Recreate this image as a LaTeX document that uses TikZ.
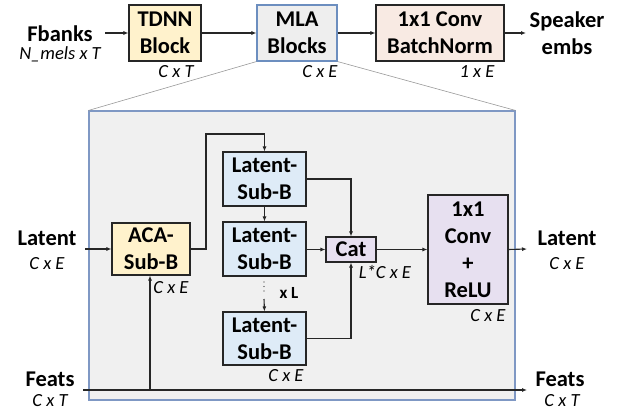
\documentclass[tikz,border=0pt]{standalone}
\usepackage{fontspec}
\setmainfont{Carlito}
\usetikzlibrary{arrows.meta}
\definecolor{yel}{HTML}{FFF2CC}
\definecolor{mlafill}{HTML}{EEEEEE}
\definecolor{mlaline}{HTML}{6C8EBF}
\definecolor{peach}{HTML}{F8EAE3}
\definecolor{lblue}{HTML}{DEEBF7}
\definecolor{lav}{HTML}{E7E0F0}
\definecolor{bigfill}{HTML}{F0F0F0}
\definecolor{bigline}{HTML}{7F98C4}
\definecolor{edge}{HTML}{262626}
\tikzset{
  blk/.style={draw=edge, line width=1.1pt, inner sep=0pt, align=center,
    font=\fontsize{22.5}{27}\selectfont\bfseries},
  lbl/.style={inner sep=0pt, align=center, font=\fontsize{22.5}{27}\selectfont\bfseries},
  dim/.style={inner sep=0pt, font=\fontsize{18.5}{22}\selectfont\itshape},
  conn/.style={draw=edge, line width=1.1pt, -{Latex[length=5pt,width=4pt]}},
  zoomline/.style={draw=gray!80, line width=0.6pt}
}
\begin{document}
\begin{tikzpicture}[x=1pt,y=-1pt]
\useasboundingbox (0,0) rectangle (624,412);
% big detail box
\node[draw=bigline, fill=bigfill, line width=1.1pt, minimum width=426pt, minimum height=289pt, inner sep=0pt] (big) at (302,255.5) {};
% top row
\node[lbl] (fb) at (60,34) {Fbanks};
\node[dim] (fbd) at (60,54) {N\_mels x T};
\node[blk, fill=yel, minimum width=72pt, minimum height=56pt] (tdnn) at (165,33) {TDNN\\Block};
\node[dim] (tdnnd) at (176,72) {C x T};
\node[blk, fill=mlafill, draw=mlaline, minimum width=80pt, minimum height=56pt] (mla) at (297,33) {MLA\\Blocks};
\node[dim] (mlad) at (320,72) {C x E};
\node[blk, fill=peach, minimum width=128pt, minimum height=56pt] (cbn) at (440,33) {1x1 Conv\\BatchNorm};
\node[dim] (cbnd) at (477,72) {1 x E};
\node[lbl] (spk) at (567,33) {Speaker\\embs};
\coordinate (fbr) at (105,33);
\coordinate (spl) at (526,33);
\draw[conn] (fbr) -- (tdnn.west);
\draw[conn] (tdnn.east) -- (mla.west);
\draw[conn] (cbn.west -| mla.east) -- (cbn.west);
\draw[conn] (cbn.east) -- (spl);
% zoom lines
\draw[zoomline] (mla.south west) -- (big.north west);
\draw[zoomline] (mla.south east) -- (big.north east);
% inner blocks
\node[blk, fill=yel, minimum width=78pt, minimum height=52pt] (aca) at (151,249) {ACA-\\Sub-B};
\node[dim] (acad) at (171,288) {C x E};
\node[blk, fill=lblue, minimum width=83pt, minimum height=54pt] (l1) at (264.5,179) {Latent-\\Sub-B};
\node[blk, fill=lblue, minimum width=83pt, minimum height=54pt] (l2) at (264.5,249) {Latent-\\Sub-B};
\node[blk, fill=lblue, minimum width=83pt, minimum height=53pt] (l3) at (264.5,338.5) {Latent-\\Sub-B};
\node[dim] (l3d) at (286,376) {C x E};
\node[blk, fill=lav, minimum width=50pt, minimum height=25pt] (cat) at (351,249.5) {Cat};
\node[dim] (catd) at (385,272) {L*C x E};
\node[blk, fill=lav, minimum width=80pt, minimum height=109pt] (cr) at (468,249.5) {1x1\\Conv\\+\\ReLU};
\node[dim] (crd) at (488,316) {C x E};
% side labels
\node[lbl] (latl) at (47,238) {Latent};
\node[dim] (latld) at (47,264) {C x E};
\node[lbl] (latr) at (567,238) {Latent};
\node[dim] (latrd) at (567,264) {C x E};
\node[lbl] (ftl) at (50,379) {Feats};
\node[dim] (ftld) at (50,401) {C x T};
\node[lbl] (ftr) at (560,379) {Feats};
\node[dim] (ftrd) at (562,401) {C x T};
\node[inner sep=0pt, font=\fontsize{17}{19}\selectfont\bfseries] (xl) at (289,293) {x L};
% connectors
\coordinate (latin) at (85,249);
\coordinate (latout) at (527,249);
\coordinate (fin) at (83,390);
\coordinate (fout) at (527,390);
\coordinate (ftap) at (150,390);
\coordinate (dotsend) at (264,299);
\draw[conn] (latin) -- (aca.west);
\draw[conn] (aca.east) -- (206,249) -- (206,134) -- (l1.north |- 0,134) -- (l1.north);
\draw[conn] (l1.south) -- (l2.north);
\draw[edge, line width=1.3pt, line cap=round, dash pattern=on 0pt off 4.5pt] (264,282) -- (264,291.5);
\draw[conn] (dotsend) -- (l3.north);
\draw[conn] (l1.east) -- (cat.north |- l1.east) -- (cat.north);
\draw[conn] (l2.east |- cat.west) -- (cat.west);
\draw[conn] (l3.east) -- (cat.south |- l3.east) -- (cat.south);
\draw[conn] (cat.east) -- (cr.west);
\draw[conn] (cr.east) -- (latout);
\draw[conn] (fin) -- (fout);
\draw[conn] (ftap) -- (aca.south -| ftap);
\end{tikzpicture}
\end{document}
